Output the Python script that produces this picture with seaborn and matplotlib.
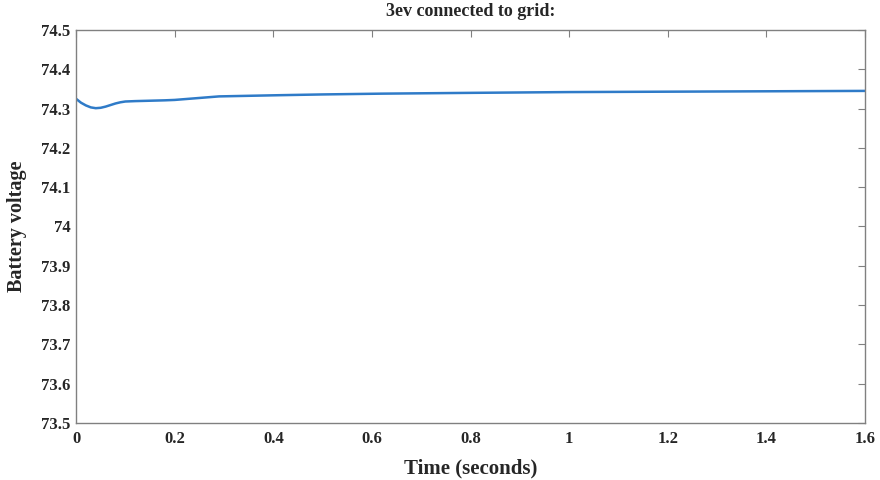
import matplotlib
matplotlib.use("Agg")
import matplotlib.pyplot as plt
import seaborn as sns
import pandas as pd
from matplotlib.ticker import FuncFormatter

# Battery voltage response after connecting three EVs to the grid
time_s = [0.0, 0.01, 0.02, 0.03, 0.04, 0.05, 0.06, 0.07, 0.08, 0.09, 0.10,
          0.12, 0.15, 0.18, 0.20, 0.23, 0.26, 0.29, 0.33, 0.41, 0.50,
          0.62, 0.80, 1.00, 1.20, 1.40, 1.60]
voltage = [74.325, 74.315, 74.308, 74.303, 74.301, 74.302, 74.305, 74.309,
           74.313, 74.316, 74.318, 74.319, 74.320, 74.321, 74.322, 74.325,
           74.328, 74.331, 74.332, 74.334, 74.336, 74.338, 74.340, 74.342,
           74.343, 74.344, 74.345]

x_ticks = [0, 0.2, 0.4, 0.6, 0.8, 1.0, 1.2, 1.4, 1.6]
y_ticks = [73.5, 73.6, 73.7, 73.8, 73.9, 74.0, 74.1, 74.2, 74.3, 74.4, 74.5]

df = pd.DataFrame({"Time (seconds)": time_s, "Battery voltage": voltage})

sns.set_theme(style="white")
plt.rcParams["font.family"] = ["Liberation Serif", "DejaVu Serif"]
plt.rcParams["font.weight"] = "bold"

fig = plt.figure(figsize=(8.8, 4.8), dpi=100)
ax = fig.add_axes([0.0864, 0.119, 0.8966, 0.8185])

sns.lineplot(data=df, x="Time (seconds)", y="Battery voltage", ax=ax,
             color="#2F7BC8", linewidth=1.8)

ax.set_xlim(0, 1.6)
ax.set_ylim(73.5, 74.5)
ax.set_xticks(x_ticks)
ax.set_yticks(y_ticks)
fmt = FuncFormatter(lambda v, p: f"{v:.1f}".rstrip("0").rstrip(".") if v != 0 else "0")
ax.xaxis.set_major_formatter(fmt)
ax.yaxis.set_major_formatter(fmt)

ax.tick_params(direction="in", length=5, width=0.8, color="#808080",
               top=True, right=True, labelsize=12, pad=4)
ax.tick_params(axis="x", pad=6)
for lbl in ax.get_xticklabels() + ax.get_yticklabels():
    lbl.set_fontweight("bold")
for side in ["left", "right", "top", "bottom"]:
    ax.spines[side].set_visible(True)
    ax.spines[side].set_color("#808080")
    ax.spines[side].set_linewidth(1.0)

ax.set_xlabel("Time (seconds)", fontsize=15, fontweight="bold", labelpad=8)
ax.set_ylabel("Battery voltage", fontsize=14.5, fontweight="bold", labelpad=10)
ax.set_title("3ev connected to grid:", fontsize=13, fontweight="bold", pad=10)

fig.savefig("out.png", dpi=100, facecolor="white")
